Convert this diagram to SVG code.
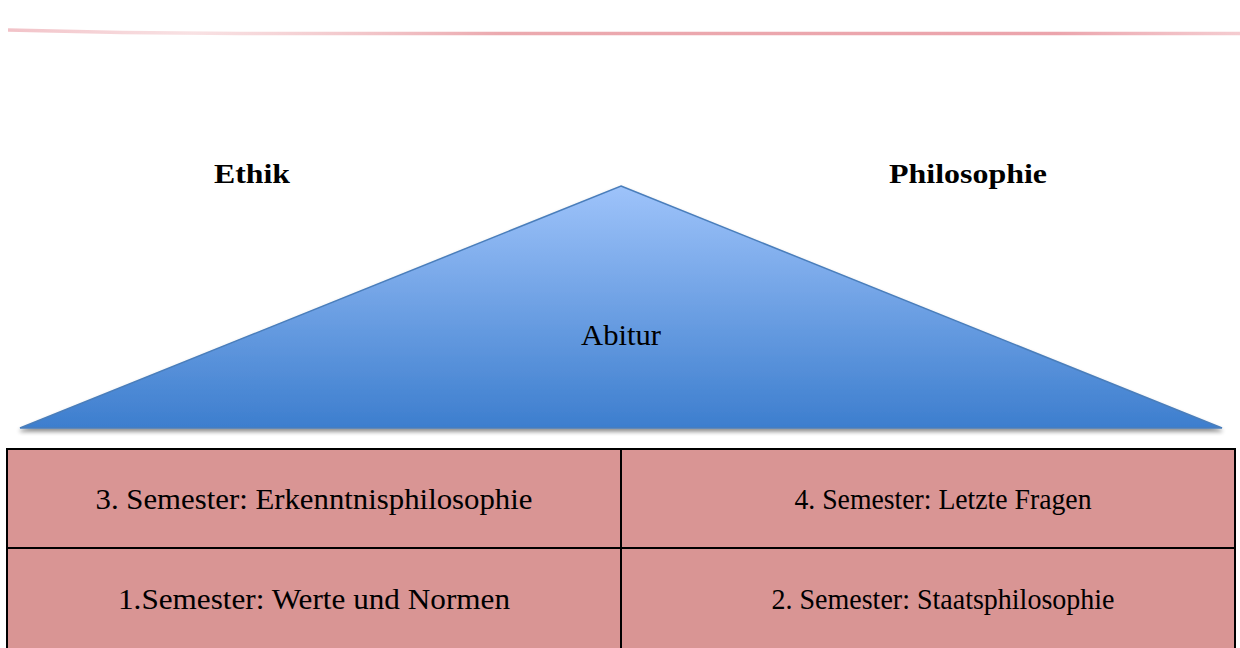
<svg xmlns="http://www.w3.org/2000/svg" width="1240" height="648" viewBox="0 0 1240 648">
<defs>
<linearGradient id="tri" x1="0" y1="0" x2="0" y2="1">
<stop offset="0" stop-color="#9EC3FA"/>
<stop offset="1" stop-color="#3D7ECE"/>
</linearGradient>
<linearGradient id="rule" x1="0" y1="0" x2="1" y2="0">
<stop offset="0" stop-color="#E99AA3" stop-opacity="0.6"/>
<stop offset="0.15" stop-color="#F2C4C8" stop-opacity="0.5"/>
<stop offset="0.4" stop-color="#E9A0A6" stop-opacity="0.9"/>
<stop offset="0.85" stop-color="#E99AA3" stop-opacity="0.9"/>
<stop offset="1" stop-color="#F0B6BC" stop-opacity="0.7"/>
</linearGradient>
<filter id="sh" x="-5%" y="-5%" width="110%" height="120%">
<feGaussianBlur in="SourceAlpha" stdDeviation="2"/>
<feOffset dx="0" dy="3" result="b"/>
<feComponentTransfer><feFuncA type="linear" slope="0.45"/></feComponentTransfer>
<feMerge><feMergeNode/><feMergeNode in="SourceGraphic"/></feMerge>
</filter>
</defs>
<style>
text{font-family:'Liberation Serif',serif;fill:#000;text-anchor:middle}
.bold{font-weight:bold;font-size:28px}
.cell{fill:#D99594;stroke:#000;stroke-width:2}
.ct{font-size:30px}
</style>
<path d="M8,30 Q120,33 240,33.5 L1240,33.5" fill="none" stroke="url(#rule)" stroke-width="3.5"/>
<g id="ethik"><text class="bold" x="252" y="183" textLength="76" lengthAdjust="spacingAndGlyphs">Ethik</text></g>
<g id="philosophie"><text class="bold" x="968" y="183" textLength="158" lengthAdjust="spacingAndGlyphs">Philosophie</text></g>
<g id="abitur">
<polygon points="621,186 1222,428 20,428" fill="url(#tri)" stroke="#4A7EBB" stroke-width="1.5" filter="url(#sh)"/>
<text x="621" y="345" font-size="29" textLength="80" lengthAdjust="spacingAndGlyphs">Abitur</text>
</g>
<g id="sem3"><rect class="cell" x="7" y="449" width="614" height="99"/><text class="ct" x="314" y="509" textLength="437" lengthAdjust="spacingAndGlyphs">3. Semester: Erkenntnisphilosophie</text></g>
<g id="sem4"><rect class="cell" x="621" y="449" width="614" height="99"/><text class="ct" x="943" y="509" textLength="297" lengthAdjust="spacingAndGlyphs">4. Semester: Letzte Fragen</text></g>
<g id="sem1"><rect class="cell" x="7" y="548" width="614" height="110"/><text class="ct" x="314" y="609" textLength="392" lengthAdjust="spacingAndGlyphs">1.Semester: Werte und Normen</text></g>
<g id="sem2"><rect class="cell" x="621" y="548" width="614" height="110"/><text class="ct" x="943" y="609" textLength="343" lengthAdjust="spacingAndGlyphs">2. Semester: Staatsphilosophie</text></g>
<g id="connectors"></g>
</svg>
